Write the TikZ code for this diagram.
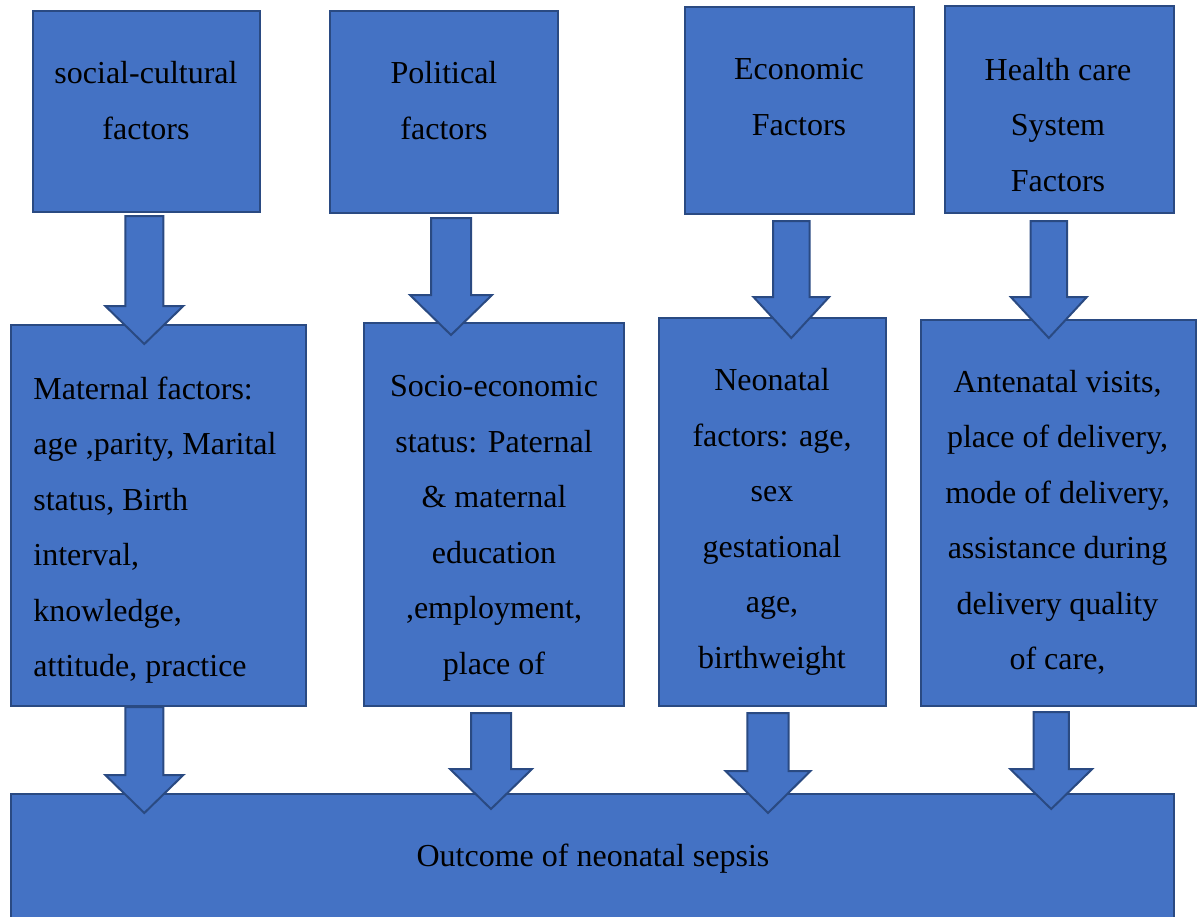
\documentclass[tikz,border=0pt]{standalone}
\usepackage{fontspec}
\setmainfont{Liberation Serif}
\usetikzlibrary{fit}
\definecolor{boxfill}{HTML}{4472C4}
\definecolor{boxline}{HTML}{2A4A82}
\newcommand{\txtfont}{\fontsize{16}{27.75}\selectfont}
\newcommand{\blockarrow}[7]{% name, cx, half shaft, half head, ytop, ybase, ytip
  \coordinate (#1-top) at (#2,#5);
  \coordinate (#1-tip) at (#2,#7);
  \draw[boxstyle] ({#2-#3},#5) -- ({#2+#3},#5) -- ({#2+#3},#6) -- ({#2+#4},#6)
     -- (#1-tip) -- ({#2-#4},#6) -- ({#2-#3},#6) -- cycle;}
\begin{document}
\begin{tikzpicture}[x=0.5pt,y=-0.5pt,
  boxstyle/.style={fill=boxfill, draw=boxline, line width=1pt, line join=miter},
  frame/.style={boxstyle, inner sep=0pt, rectangle},
  txt/.style={font=\txtfont, align=center, inner sep=0pt, anchor=north, text=black}]
\useasboundingbox (0,0) rectangle (1202,916);
% top boxes
\node[frame, fit={(33,11)(260,212)}] (b1) {};
\node[frame, fit={(330,11)(558,213)}] (b2) {};
\node[frame, fit={(685,7)(914,214)}] (b3) {};
\node[frame, fit={(945,6)(1174,213)}] (b4) {};
% middle boxes
\node[frame, fit={(11,325)(306,706)}] (m1) {};
\node[frame, fit={(364,323)(624,706)}] (m2) {};
\node[frame, fit={(659,318)(886,706)}] (m3) {};
\node[frame, fit={(921,320)(1196,706)}] (m4) {};
% bottom box
\node[frame, fit={(11,794)(1174,940)}] (out) {};
% texts
\node[txt] (t1) at (146,61.1) {social-cultural\\factors};
\node[txt] (t2) at (444,61.1) {Political\\factors};
\node[txt] (t3) at (799,58.1) {Economic\\Factors};
\node[txt] (t4) at (1058,57.6) {Health care\\System\\Factors};
\node[txt, anchor=north west, align=left] (s1) at (33,376.1) {Maternal factors:\\age ,parity, Marital\\status, Birth\\interval,\\knowledge,\\attitude, practice};
\node[txt] (s2) at (494,375.1) {Socio-economic\\status: Paternal\\\& maternal\\education\\,employment,\\place of};
\node[txt] (s3) at (772,368.1) {Neonatal\\factors: age,\\sex\\gestational\\age,\\birthweight};
\node[txt] (s4) at (1057.5,369.8) {Antenatal visits,\\place of delivery,\\mode of delivery,\\assistance during\\delivery quality\\of care,};
\node[font=\txtfont, inner sep=0pt, anchor=base] (ot) at (593,866) {Outcome of neonatal sepsis};
% arrows top row
\blockarrow{a1}{144.3}{19}{39}{216}{306}{344}
\blockarrow{a2}{451}{20}{41}{218}{295}{335}
\blockarrow{a3}{791.3}{18.3}{37.8}{221}{297}{338}
\blockarrow{a4}{1048.8}{18.3}{38}{221}{297}{338}
% arrows bottom row
\blockarrow{a5}{144.3}{19}{39}{707}{775}{813}
\blockarrow{a6}{491}{20}{41}{713}{769}{809}
\blockarrow{a7}{768}{20.7}{42.5}{713}{771}{813}
\blockarrow{a8}{1051.2}{17.6}{41}{712}{769}{809}
\end{tikzpicture}
\end{document}
